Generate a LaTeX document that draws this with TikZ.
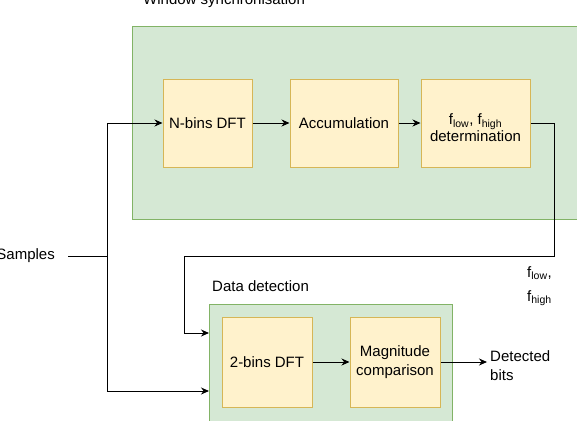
\documentclass[tikz,border=0pt]{standalone}
\usepackage{fontspec}
\setmainfont{Liberation Sans}
\usetikzlibrary{arrows.meta}

\definecolor{grpfill}{HTML}{D5E8D4}
\definecolor{grpline}{HTML}{82B366}
\definecolor{blkfill}{HTML}{FFF2CC}
\definecolor{blkline}{HTML}{D6B656}

\tikzset{
  txt/.style={font=\fontsize{15}{18}\selectfont, inner sep=0pt},
  group/.style={draw=grpline, fill=grpfill, line width=1pt, inner sep=0pt},
  block/.style={txt, draw=blkline, fill=blkfill, line width=1pt, align=center},
  wire/.style={line width=1pt, draw=black},
  flow/.style={wire, -{Stealth[length=8pt,width=7pt]}},
}

\begin{document}
\begin{tikzpicture}[x=1pt,y=-1pt]
\useasboundingbox (0,0) rectangle (577,420);
\clip (0,0) rectangle (577,420);

% group containers
\node[group, minimum width=450pt, minimum height=192pt] (sync) at (357,123) {};
\node[group, minimum width=243pt, minimum height=126pt] (detect) at (330.5,367) {};

% group titles
\node[txt, anchor=base west] (synctitle) at (143,5) {Window synchronisation};
\node[txt, anchor=base west] (dettitle) at (212,291) {Data detection};

% processing blocks
\node[block, minimum width=89pt, minimum height=88pt] (nbins) at (207.5,123) {N-bins DFT};
\node[block, minimum width=108pt, minimum height=88pt] (acc) at (344,123) {Accumulation};
\node[block, minimum width=109pt, minimum height=88pt, font=\fontsize{15}{17}\selectfont] (fdet) at (475.5,123)
  {\rule{0pt}{21pt}f\textsubscript{low}, f\textsubscript{high}\\determination};
\node[block, minimum width=90pt, minimum height=90pt] (dft2) at (267,362) {2-bins DFT};
\node[block, minimum width=90pt, minimum height=90pt, font=\fontsize{15}{19}\selectfont] (mag) at (395,362)
  {Magnitude\\comparison};

% inputs and outputs
\node[txt, inner xsep=13pt, anchor=east] (samples) at (68,256) {Samples};
\node[txt, anchor=west, align=left, inner xsep=3pt, font=\fontsize{15}{19}\selectfont] (bits) at (487,366)
  {Detected\\bits};
\node[txt, anchor=north west, align=left, font=\fontsize{15}{24}\selectfont] (flabel) at (527,266)
  {f\textsubscript{low},\\f\textsubscript{high}};

% routing points
\coordinate (split) at (107,256);
\coordinate (fbR) at (554,256);
\coordinate (fbL) at (184,256);
\coordinate (detin1) at (209,333);
\coordinate (detin2) at (209,391);

% connectors
\draw[wire] (samples.east) -- (split);
\draw[flow] (split) |- (nbins.west);
\draw[flow] (split) |- (detin2);
\draw[flow] (nbins) -- (acc);
\draw[flow] (acc) -- (fdet);
\draw[flow] (fdet.east) -| (fbR) -- (fbL) |- (detin1);
\draw[flow] (dft2) -- (mag);
\draw[flow] (mag.east) -- (mag.east -| bits.west);
\end{tikzpicture}
\end{document}
